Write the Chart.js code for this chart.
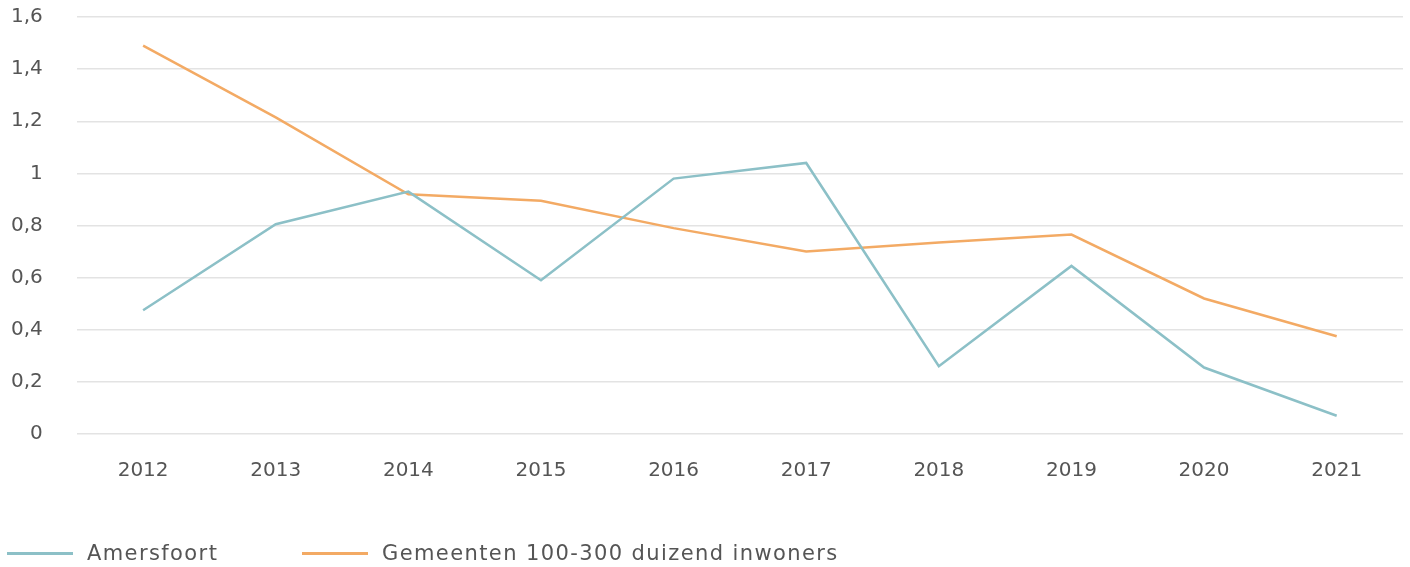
<!DOCTYPE html>
<html>
<head>
<meta charset="utf-8">
<script src="https://cdn.jsdelivr.net/npm/chart.js@4/dist/chart.umd.min.js"></script>
<style>
	html, body { margin: 0; padding: 0; background: #fff; }
	#wrap { width: 1410px; height: 567px; position: relative; }
	#legend {
		position: absolute; left: 7px; top: 540px; height: 26px;
		display: flex; align-items: center;
		font-family: "DejaVu Sans", sans-serif; font-size: 21px; letter-spacing: 1.4px; color: #555;
	}
	.item { display: flex; align-items: center; }
	.item:first-child { width: 295px; }
	.swatch { width: 66px; height: 3px; margin-right: 14px; }
</style>
</head>
<body>
<div id="wrap"><canvas id="chart"></canvas><div id="legend"></div></div>
<script>
const years = ['2012', '2013', '2014', '2015', '2016', '2017', '2018', '2019', '2020', '2021'];
const amersfoort = [0.475, 0.805, 0.93, 0.59, 0.98, 1.04, 0.26, 0.645, 0.255, 0.07];
const gemeenten = [1.49, 1.215, 0.92, 0.895, 0.79, 0.70, 0.735, 0.765, 0.52, 0.375];

const fontFamily = '"DejaVu Sans", sans-serif';
const textColor = '#555555';
const xPadding = 25;
const yPadding = 34;

const lineDataset = (label, data, color) => ({
	label,
	data,
	borderColor: color,
	backgroundColor: color,
	borderWidth: 2.5,
	pointRadius: 0,
	tension: 0,
	clip: false
});

// chart.js reserves the tick padding twice and adds it to the axis ends too
const fixX = scale => {
	scale.height -= xPadding;
	scale.paddingLeft = 0;
	scale.paddingRight = 0;
};
const fixY = scale => {
	scale.width -= yPadding;
	scale.paddingTop = 0;
	scale.paddingBottom = 0;
};

const config = {
	type: 'line',
	data: {
		labels: years,
		datasets: [
			lineDataset('Amersfoort', amersfoort, '#8cc0c7'),
			lineDataset('Gemeenten 100-300 duizend inwoners', gemeenten, '#f3aa64')
		]
	},
	options: {
		responsive: true,
		maintainAspectRatio: false,
		animation: false,
		layout: {
			padding: { top: 17, right: 7, left: 11, bottom: 84 }
		},
		plugins: {
			tooltip: { enabled: false },
			legend: { display: false }
		},
		scales: {
			x: {
				offset: true,
				afterFit: fixX,
				grid: { display: false, drawTicks: false },
				border: { display: false },
				ticks: {
					color: textColor,
					padding: xPadding,
					font: { family: fontFamily, size: 20 }
				}
			},
			y: {
				min: 0,
				max: 1.6,
				afterFit: fixY,
				grid: { color: '#e3e3e3', lineWidth: 1.5, drawTicks: false },
				border: { display: false },
				ticks: {
					stepSize: 0.2,
					color: textColor,
					padding: yPadding,
					font: { family: fontFamily, size: 20 },
					callback: value => Number(value.toFixed(1)).toString().replace('.', ',')
				}
			}
		}
	}
};

const chart = new Chart(document.getElementById('chart'), config);

const legendEl = document.getElementById('legend');
chart.data.datasets.forEach(ds => {
	const item = document.createElement('div');
	item.className = 'item';
	item.innerHTML = `<span class="swatch" style="background:${ds.borderColor}"></span><span>${ds.label}</span>`;
	legendEl.appendChild(item);
});
</script>
</body>
</html>
